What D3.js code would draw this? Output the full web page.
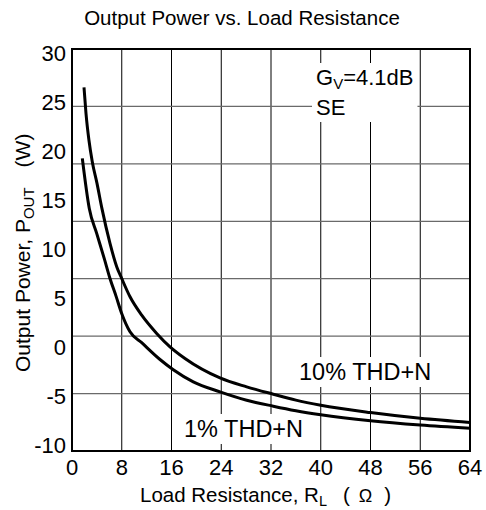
<!DOCTYPE html>
<html><head><meta charset="utf-8">
<script src="https://cdn.jsdelivr.net/npm/d3@7/dist/d3.min.js"></script>
<style>body{margin:0;background:#fff}svg{display:block}text{font-family:"Liberation Sans",Arial,sans-serif;fill:#000}</style>
</head><body>
<svg id="c" width="486" height="510"></svg>
<script>
const xTicks = [0, 8, 16, 24, 32, 40, 48, 56, 64];
const yTicks = [30, 25, 20, 15, 10, 5, 0, -5, -10];
const res10 = [1.93, 2.25, 2.72, 3.26, 4.02, 4.81, 6.11, 7.19, 7.99, 9.33, 11.21, 13.62, 15.76, 18.17, 23.8, 28.09, 32.37, 36.0, 40.0, 48.0, 56.0, 64.0];
const pow10 = [26.47, 23.82, 21.10, 18.89, 16.68, 14.13, 10.56, 8.18, 6.99, 5.12, 3.25, 1.39, 0.02, -1.17, -3.15, -4.06, -4.81, -5.41, -5.93, -6.68, -7.27, -7.69];
const res1 = [1.66, 2.78, 3.97, 5.19, 6.11, 7.08, 7.99, 9.33, 11.21, 14.15, 16.29, 19.5, 23.8, 28.09, 32.37, 36.0, 40.0, 48.0, 56.0, 64.0];
const pow1 = [19.23, 14.13, 11.58, 9.01, 6.99, 5.19, 3.42, 1.55, 0.44, -1.27, -2.31, -3.55, -4.57, -5.42, -6.03, -6.49, -6.90, -7.52, -7.96, -8.29];
const titleText = "Output Power vs. Load Resistance";

const svg = d3.select("#c");
const L = 72, R = 470, T = 49, B = 451;
const x = d3.scaleLinear().domain([0, 64]).range([L, R]);
const y = d3.scaleLinear().domain([-10.6, 30.38]).range([B, T]);

const grid = svg.append("g");
grid.selectAll("line.v").data(xTicks.slice(1, -1)).join("line")
  .attr("x1", d => x(d)).attr("x2", d => x(d)).attr("y1", T).attr("y2", B)
  .attr("stroke", "#000").attr("stroke-width", 1);
grid.selectAll("line.h").data(d3.range(1, 7)).join("line")
  .attr("x1", L).attr("x2", R)
  .attr("y1", i => T + i * (B - T) / 7).attr("y2", i => T + i * (B - T) / 7)
  .attr("stroke", "#6a6a6a").attr("stroke-width", 1.3);

function boxed(g, pad) {
  const bb = g.node().getBBox();
  g.insert("rect", ":first-child").attr("x", bb.x - pad[0]).attr("y", bb.y - pad[1])
    .attr("width", bb.width + 2 * pad[0]).attr("height", bb.height + 2 * pad[1]).attr("fill", "#fff");
}
const gv = svg.append("g");
const t1 = gv.append("text").attr("x", 316).attr("y", 85).attr("font-size", 22);
t1.append("tspan").text("G");
t1.append("tspan").attr("font-size", 15).attr("dy", 4).text("V");
t1.append("tspan").attr("dy", -4).text("=4.1dB");
gv.append("text").attr("x", 316).attr("y", 115).attr("font-size", 22).text("SE");
boxed(gv, [4, 2]);

const l10 = svg.append("g");
l10.append("text").attr("x", 299).attr("y", 380).attr("font-size", 23.5).text("10% THD+N");
boxed(l10, [2, 2]);
const l1 = svg.append("g");
l1.append("text").attr("x", 184).attr("y", 437).attr("font-size", 23.5).text("1% THD+N");
boxed(l1, [2, 2]);

svg.append("rect").attr("x", L).attr("y", T).attr("width", R - L).attr("height", B - T)
  .attr("fill", "none").attr("stroke", "#000").attr("stroke-width", 2);

const line = d3.line().x(d => x(d[0])).y(d => y(d[1])).curve(d3.curveMonotoneX);
[[res10, pow10], [res1, pow1]].forEach(([rs, ps]) => {
  svg.append("path").datum(rs.map((r, i) => [r, ps[i]])).attr("d", line)
    .attr("fill", "none").attr("stroke", "#000").attr("stroke-width", 3).attr("stroke-linejoin", "round");
});

svg.selectAll("text.yt").data(yTicks).join("text").attr("class", "yt")
  .attr("x", 66).attr("y", d => y(d)).attr("dy", "0.36em").attr("text-anchor", "end")
  .attr("font-size", 22).text(d => d);
svg.selectAll("text.xt").data(xTicks).join("text").attr("class", "xt")
  .attr("x", d => x(d)).attr("y", 475).attr("text-anchor", "middle")
  .attr("font-size", 22).text(d => d);

svg.append("text").attr("x", 242).attr("y", 25).attr("text-anchor", "middle").attr("font-size", 20.5).text(titleText);

const xt = svg.append("text").attr("x", 140).attr("y", 502).attr("font-size", 20.5);
xt.append("tspan").text("Load Resistance, R");
xt.append("tspan").attr("font-size", 14.5).attr("dy", 4).text("L");
xt.append("tspan").attr("dy", -4).attr("dx", 16).text("(");
xt.append("tspan").attr("font-size", 18).attr("dx", 9).text("Ω");
xt.append("tspan").attr("dx", 12).text(")");

const yt = svg.append("text").attr("transform", "translate(30,372) rotate(-90)").attr("font-size", 21);
yt.append("tspan").text("Output Power, P");
yt.append("tspan").attr("font-size", 15).attr("dy", 4).text("OUT");
yt.append("tspan").attr("dy", -4).attr("dx", 20).text("(W)");
</script>
</body></html>
